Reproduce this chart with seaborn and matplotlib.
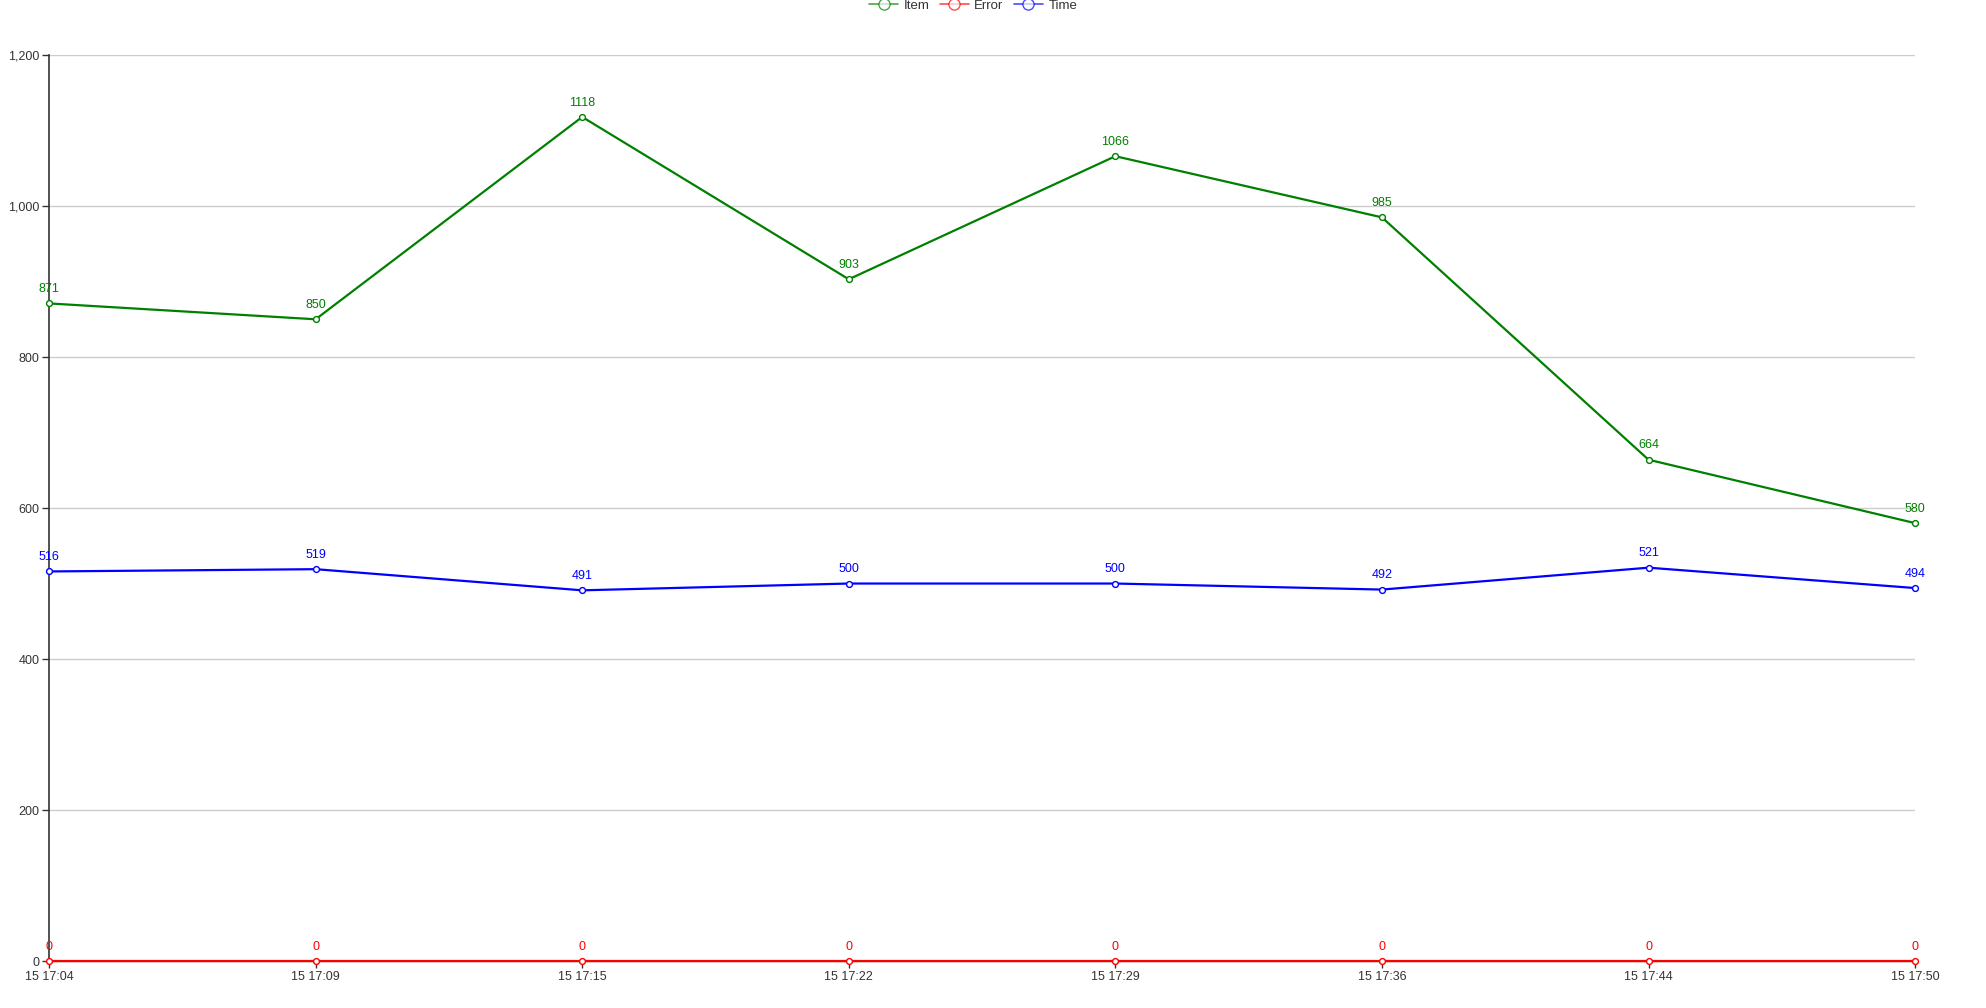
import matplotlib
matplotlib.use("Agg")
import matplotlib.pyplot as plt
import seaborn as sns
import pandas as pd
from matplotlib.lines import Line2D

categories = ["15 17:04", "15 17:09", "15 17:15", "15 17:22", "15 17:29", "15 17:36", "15 17:44", "15 17:50"]
item_values = [871, 850, 1118, 903, 1066, 985, 664, 580]
error_values = [0, 0, 0, 0, 0, 0, 0, 0]
time_values = [516, 519, 491, 500, 500, 492, 521, 494]
series_names = ["Item", "Error", "Time"]
series_colors = ["#008000", "#ff0000", "#0000ff"]
y_ticks = [0, 200, 400, 600, 800, 1000, 1200]

sns.set_theme(style="white")
plt.rcParams['font.family'] = ['Liberation Sans', 'DejaVu Sans']

rows = []
for name, vals in zip(series_names, [item_values, error_values, time_values]):
    for i, (c, v) in enumerate(zip(categories, vals)):
        rows.append({"idx": i, "cat": c, "value": v, "series": name})
df = pd.DataFrame(rows)

fig = plt.figure(figsize=(19.86, 10.08), dpi=100)
ax = fig.add_axes([0.0247, 0.0466, 0.9396, 0.8988])

palette = dict(zip(series_names, series_colors))
# draw Item, Time, then Error on top
for name in ["Item", "Time", "Error"]:
    sub = df[df.series == name]
    sns.lineplot(data=sub, x="idx", y="value", color=palette[name], ax=ax,
                 linewidth=1.6, marker="o", markersize=4.2, markerfacecolor="white",
                 markeredgecolor=palette[name], markeredgewidth=1.0, legend=False,
                 zorder=3, clip_on=False)
    for _, r in sub.iterrows():
        ax.annotate(f"{int(r.value)}", (r.idx, r.value), xytext=(0, 6),
                    textcoords="offset points", ha="center", va="bottom",
                    color=palette[name], fontsize=9, zorder=4)

ax.set_xlim(0, len(categories) - 1)
ax.set_ylim(0, 1200)
ax.set_yticks(y_ticks)
ax.set_yticklabels([f"{t:,}" for t in y_ticks])
ax.set_xticks(range(len(categories)))
ax.set_xticklabels(categories)
ax.set_xlabel("")
ax.set_ylabel("")
ax.yaxis.grid(True, color="#cccccc", linewidth=1.0)
ax.xaxis.grid(False)
ax.set_axisbelow(True)
for s in ["top", "right"]:
    ax.spines[s].set_visible(False)
ax.spines["left"].set_color("#333333")
ax.spines["left"].set_linewidth(1.2)
ax.spines["bottom"].set_color("#333333")
ax.spines["bottom"].set_linewidth(1.0)
ax.tick_params(axis="both", which="both", length=5, width=1, color="#333333",
               labelsize=9, labelcolor="#333333", pad=2, direction="out",
               left=True, bottom=True)

handles = [Line2D([0], [0], color=c, lw=1.2, marker="o", markersize=8,
                  markerfacecolor="white", markeredgecolor=c, alpha=0.7)
           for c in series_colors]
fig.legend(handles, series_names, loc="upper center", bbox_to_anchor=(0.49, 1.012),
           ncol=3, frameon=False, fontsize=9.5, handlelength=2.2, columnspacing=0.8,
           handletextpad=0.4, labelcolor="#333333")

fig.savefig("out.png", dpi=100)
